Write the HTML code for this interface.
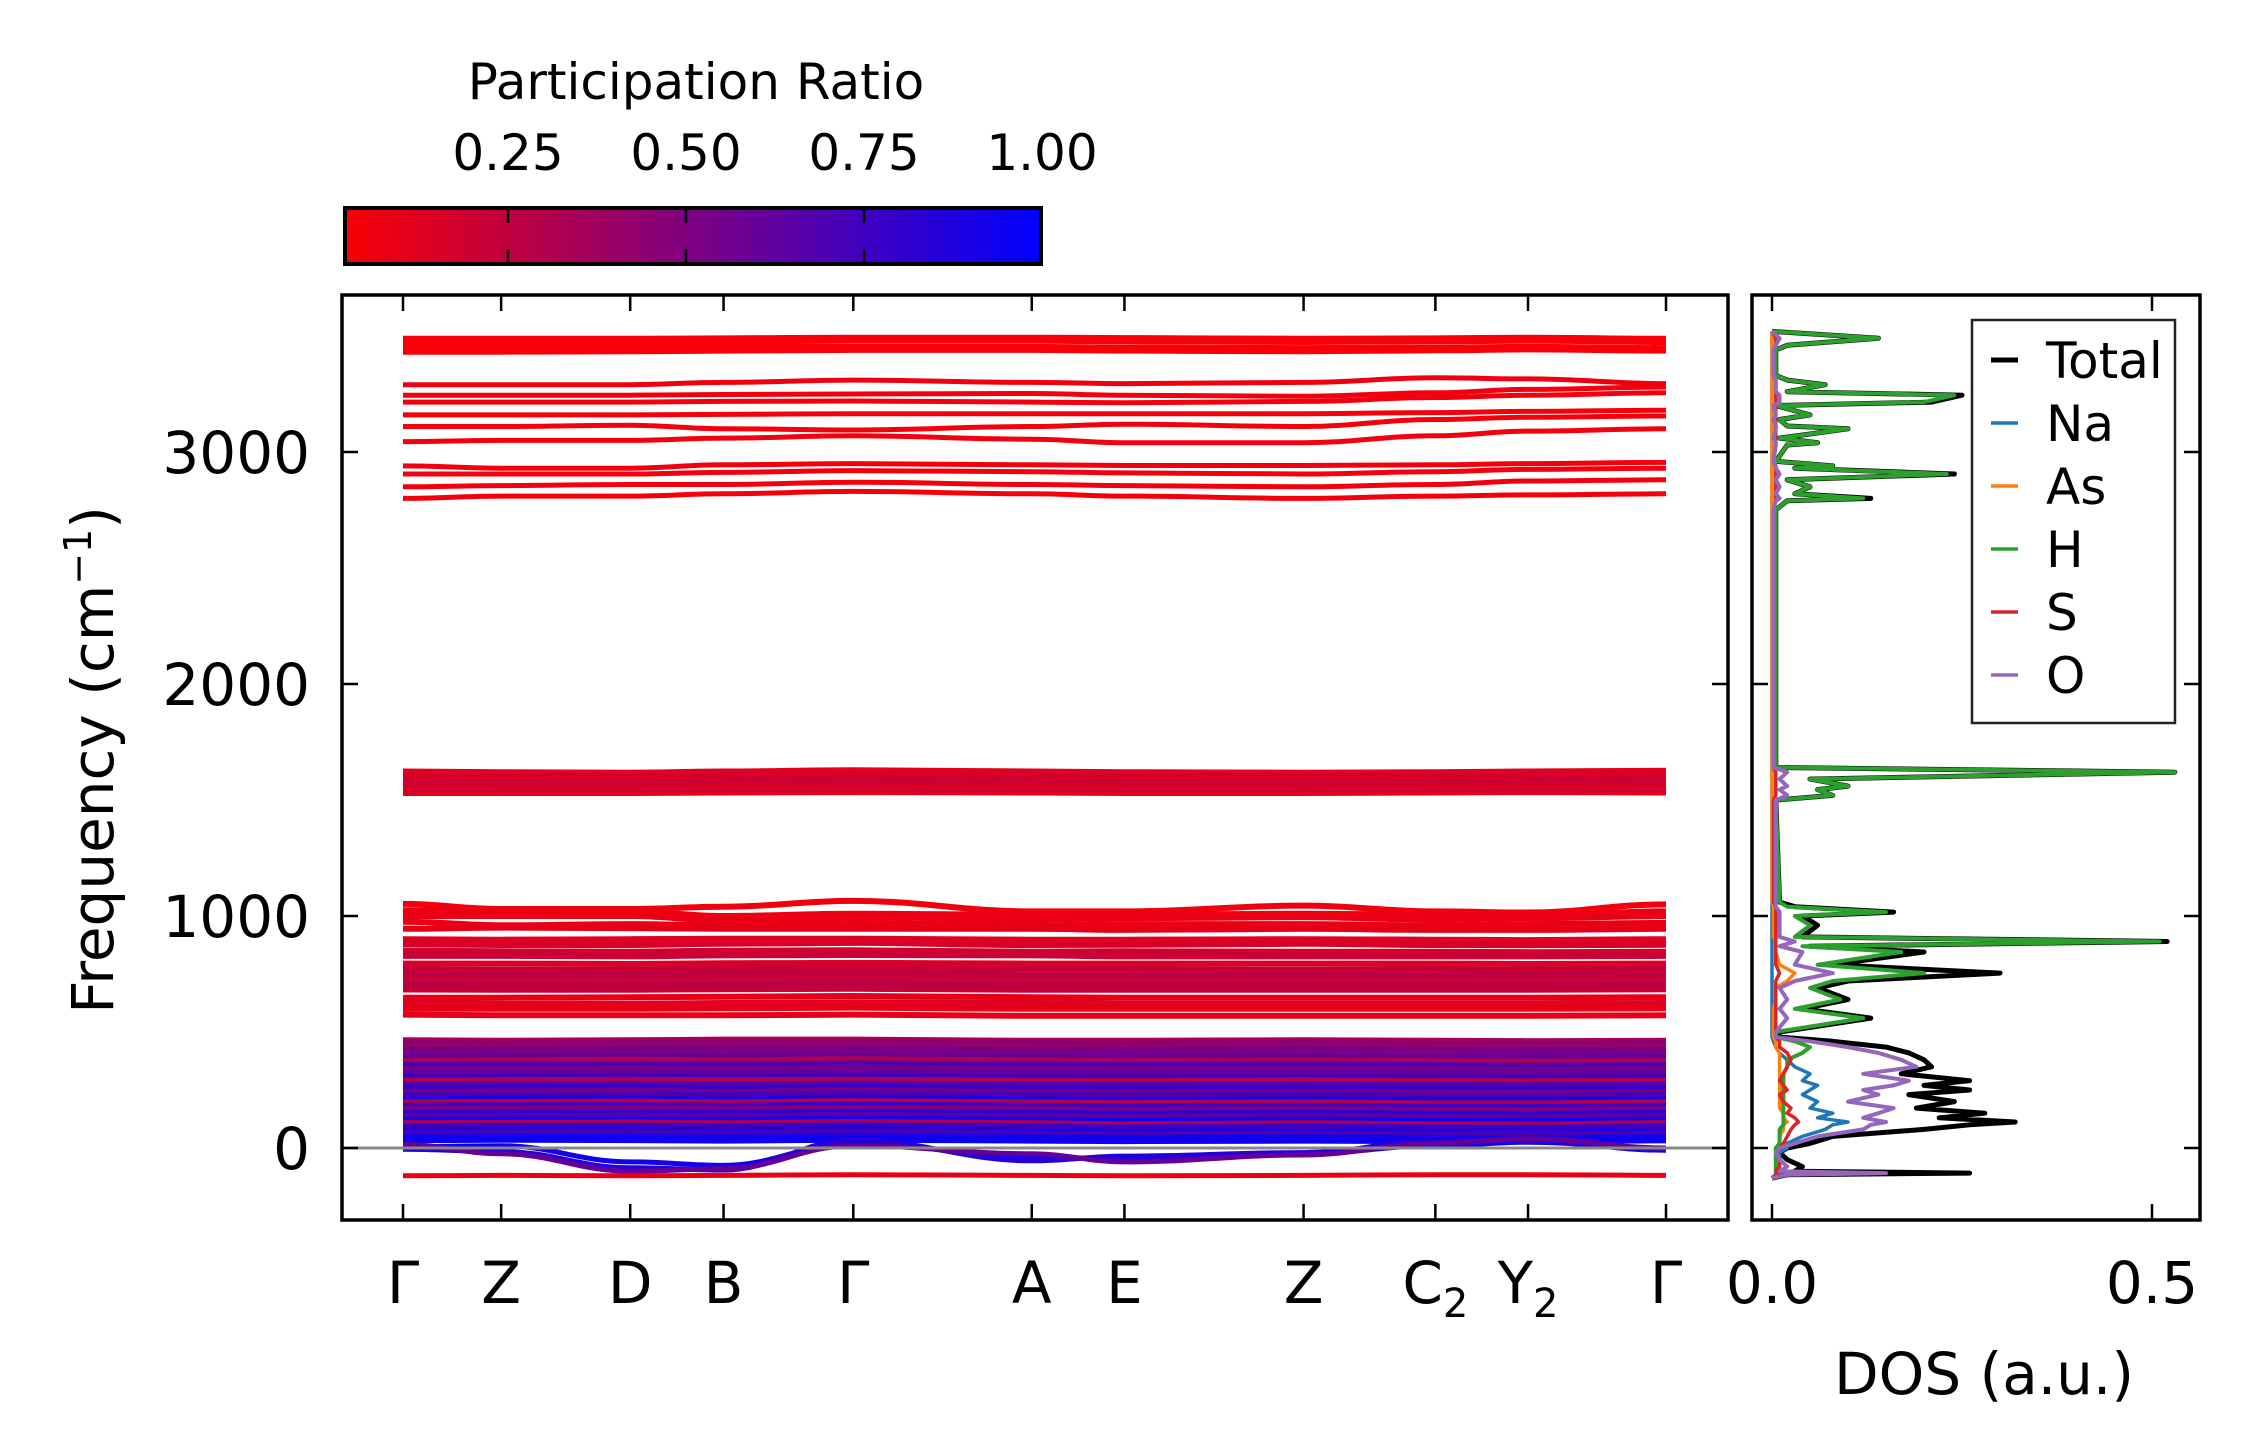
<!DOCTYPE html>
<html><head><meta charset="utf-8"><style>
html,body{margin:0;padding:0;background:#fff;}
svg{display:block;font-family:"DejaVu Sans","Liberation Sans",sans-serif;}
</style></head><body>
<svg id="fig" xmlns="http://www.w3.org/2000/svg" width="2259" height="1455" viewBox="0 0 2259 1455">
<defs>
<linearGradient id="cbg" x1="0" x2="1" y1="0" y2="0">
<stop offset="0" stop-color="#fa0005"/><stop offset="1" stop-color="#0000ff"/>
</linearGradient>
<clipPath id="mainclip"><rect x="342" y="295" width="1386" height="925"/></clipPath>
<clipPath id="dosclip"><rect x="1752" y="295" width="448" height="925"/></clipPath>
</defs>
<g id="colorbar">
<text x="696" y="99" font-size="50" text-anchor="middle">Participation Ratio</text>
<rect x="345" y="208" width="696" height="56" fill="url(#cbg)" stroke="#000" stroke-width="4"/>
<g id="cbticks"></g>
</g>
<g id="main">
<g id="bands" clip-path="url(#mainclip)"></g>
<line x1="342" x2="1728" y1="1148" y2="1148" stroke="#888" stroke-width="3"/>
<rect x="342" y="295" width="1386" height="925" fill="none" stroke="#000" stroke-width="3.5"/>
<g id="mainticks"></g>
<text transform="translate(113,760) rotate(-90)" font-size="58" text-anchor="middle">Frequency (cm<tspan font-size="38" dy="-22">−1</tspan><tspan dy="22">)</tspan></text>
</g>
<g id="dos">
<g id="doslines" clip-path="url(#dosclip)"></g>
<rect x="1752" y="295" width="448" height="925" fill="none" stroke="#000" stroke-width="3.5"/>
<g id="dosticks"></g>
<text x="1984" y="1394" font-size="58" text-anchor="middle">DOS (a.u.)</text>
<g>
<rect x="1972" y="320" width="203" height="403" fill="#fff" stroke="#222" stroke-width="2.5"/>
<g id="legend"></g>
</g>
</g>
</svg>
<script>
// ---------- data ----------
const kLabels = ["Γ","Z","D","B","Γ","A","E","Z","C","Y","Γ"];
const kSubs = ["","","","","","","","","2","2",""];
const kPos = [0,0.0715,0.1655,0.2335,0.3280,0.4580,0.5255,0.6560,0.7520,0.8195,0.9200];
const yTicks = [0,1000,2000,3000];
const cbTicks = [0.25,0.50,0.75,1.00];
const cbTickLabels = ["0.25","0.50","0.75","1.00"];
const dosTicks = [0.0,0.5];
const dosTickLabels = ["0.0","0.5"];

const highBands = [
[3490,3490,3490,3492,3495,3495,3493,3490,3492,3495,3490],
[3470,3470,3472,3475,3478,3478,3475,3472,3475,3478,3472],
[3450,3450,3452,3455,3455,3455,3452,3450,3452,3455,3450],
[3430,3430,3432,3435,3438,3438,3435,3432,3436,3440,3435],
[3290,3290,3290,3300,3310,3300,3295,3300,3320,3315,3295],
[3245,3245,3245,3248,3250,3252,3245,3240,3255,3270,3280],
[3215,3215,3215,3218,3220,3215,3212,3218,3235,3245,3255],
[3160,3160,3160,3162,3165,3165,3165,3165,3170,3175,3180],
[3110,3110,3115,3100,3095,3110,3120,3110,3140,3150,3155],
[3045,3050,3050,3060,3070,3055,3040,3040,3070,3090,3100],
[2940,2930,2930,2945,2950,2945,2942,2942,2945,2950,2955],
[2905,2905,2905,2912,2920,2915,2910,2905,2915,2925,2930],
[2850,2855,2860,2860,2870,2860,2855,2850,2860,2875,2880],
[2800,2810,2810,2820,2830,2820,2810,2800,2810,2815,2820]
];
const highPR = [0.03,0.03,0.03,0.03,0.06,0.05,0.05,0.04,0.04,0.05,0.05,0.05,0.05,0.04];

const midBands = [
[1625,1622,1620,1625,1630,1625,1622,1620,1622,1625,1628],
[1605,1605,1603,1608,1610,1608,1605,1605,1605,1608,1610],
[1590,1588,1588,1592,1595,1592,1590,1588,1590,1592,1595],
[1572,1572,1570,1575,1578,1575,1572,1570,1572,1575,1578],
[1558,1555,1555,1560,1562,1560,1558,1555,1558,1560,1562],
[1542,1540,1540,1545,1548,1545,1542,1540,1542,1545,1548],
[1528,1528,1528,1530,1532,1530,1528,1528,1530,1532,1530]
];
const midPR = [0.12,0.15,0.18,0.2,0.15,0.18,0.12];

const lowerBands = [
[1052,1030,1030,1040,1065,1020,1020,1045,1020,1015,1050],
[1025,1018,1020,1000,1010,1005,1005,1010,1005,1000,1020],
[1000,1000,1000,980,995,985,990,995,985,990,1000],
[975,960,965,960,970,960,965,965,960,965,970],
[945,950,948,945,945,945,940,945,940,940,945],
[900,898,900,902,902,898,898,900,898,896,900],
[878,875,875,880,884,875,876,880,875,874,876],
[850,848,846,850,852,846,848,846,846,844,846],
[828,828,826,830,832,830,826,826,826,826,828],
[795,795,793,796,798,795,795,795,795,793,795],
[770,768,768,772,774,770,770,768,770,768,772],
[748,745,746,748,750,745,745,746,745,745,748],
[725,722,722,725,728,722,722,722,722,722,725],
[703,700,700,703,706,700,700,700,700,700,703],
[683,682,682,684,686,682,682,682,682,682,684],
[648,648,650,652,655,650,648,648,648,648,650],
[625,622,622,625,628,625,622,622,622,622,625],
[600,600,600,602,605,600,600,600,600,600,602],
[575,572,572,572,575,570,570,570,570,570,572]
];
const lowerPR = [0.05,0.07,0.08,0.08,0.1,0.12,0.15,0.18,0.2,0.15,0.22,0.25,0.2,0.28,0.22,0.1,0.12,0.08,0.1];

const denseBands = [
[462,460,462,465,465,460,460,462,460,458,460],[450,448,450,452,455,450,448,450,448,448,450],
[438,435,438,440,440,435,435,438,435,435,438],[420,422,425,428,425,420,420,425,420,418,420],
[405,408,410,410,412,405,405,410,405,402,405],[390,392,395,392,395,390,390,392,388,390,390],
[372,375,378,375,380,375,372,375,372,370,372],[355,358,360,358,362,358,355,358,355,352,355],
[338,340,342,340,345,340,338,340,338,335,338],[320,322,325,322,328,322,320,322,320,318,320],
[305,305,308,306,310,305,302,305,302,300,305],[288,290,292,290,292,288,286,290,286,285,288],
[272,275,275,272,276,272,270,272,270,268,272],[255,258,260,256,260,255,255,256,252,252,255],
[240,242,244,240,245,240,238,240,238,236,240],[225,226,228,226,230,225,222,225,222,220,225],
[210,212,212,210,215,210,206,210,206,205,210],[195,196,198,195,200,195,192,195,190,190,195],
[180,182,182,180,185,180,176,180,176,175,180],[165,166,168,165,170,165,160,165,160,160,165],
[150,152,152,150,155,150,146,150,146,145,150],[135,136,138,135,140,135,130,135,130,130,135],
[120,122,122,120,125,120,116,120,116,115,120],[105,106,108,105,110,105,100,105,100,100,105],
[90,92,92,90,95,90,86,90,86,85,90],[75,78,78,75,80,75,70,75,70,70,75],
[60,62,64,60,65,60,56,60,56,55,60],[45,48,48,45,50,45,42,45,42,40,45],
[35,38,36,34,38,34,32,34,32,30,35]
];
const densePR = [0.35,0.45,0.4,0.55,0.5,0.6,0.3,0.7,0.55,0.6,0.75,0.3,0.65,0.8,0.55,0.7,0.85,0.3,0.75,0.5,0.8,0.65,0.9,0.35,0.75,0.85,0.7,0.9,0.95];

const acousticBands = [
[5,10,-60,-75,20,-40,-45,-25,10,25,-5],
[-5,-15,-85,-95,35,-55,-35,-20,30,30,-10],
[15,-25,-100,-90,10,-25,-60,-30,20,40,0],
[-120,-118,-120,-118,-115,-118,-120,-118,-115,-115,-118]
];
const acousticPR = [0.92,0.85,0.6,0.08];

const dosFreq = [-130,-115,-108,-100,-80,-50,-20,0,20,50,80,100,112,130,150,172,200,230,250,270,290,320,350,380,410,435,460,478,500,560,600,640,690,720,754,790,845,870,890,910,960,1000,1017,1040,1060,1500,1520,1545,1560,1590,1620,1640,2750,2790,2800,2820,2850,2880,2905,2930,2940,2960,3030,3040,3060,3100,3112,3140,3160,3200,3215,3245,3260,3290,3310,3330,3440,3460,3490,3520];
const dosTotal = [0,0.02,0.26,0.03,0.04,0.02,0.01,0.02,0.05,0.08,0.2,0.26,0.32,0.22,0.28,0.19,0.24,0.18,0.26,0.2,0.26,0.17,0.21,0.2,0.18,0.15,0.08,0.01,0.01,0.13,0.04,0.1,0.06,0.1,0.3,0.08,0.2,0.05,0.52,0.04,0.06,0.04,0.16,0.03,0.01,0.005,0.08,0.06,0.1,0.05,0.53,0.005,0.005,0.02,0.13,0.03,0.05,0.02,0.24,0.03,0.08,0.005,0.02,0.06,0.01,0.1,0.02,0.01,0.05,0.005,0.21,0.25,0.02,0.07,0.02,0.005,0.005,0.02,0.14,0];
const dosH = [0,0.005,0.005,0.005,0.005,0.005,0.005,0.005,0.01,0.01,0.01,0.015,0.015,0.015,0.015,0.015,0.015,0.015,0.015,0.015,0.015,0.015,0.02,0.02,0.04,0.05,0.03,0.005,0.005,0.12,0.03,0.09,0.05,0.08,0.2,0.06,0.17,0.04,0.51,0.03,0.05,0.03,0.15,0.02,0.01,0.005,0.08,0.06,0.1,0.05,0.53,0.005,0.005,0.02,0.12,0.03,0.05,0.02,0.23,0.03,0.08,0.005,0.02,0.06,0.01,0.1,0.02,0.01,0.05,0.005,0.2,0.24,0.02,0.07,0.02,0.005,0.005,0.02,0.14,0];
const dosO = [0,0.02,0.15,0.01,0.02,0.01,0.005,0.01,0.03,0.06,0.12,0.13,0.15,0.12,0.14,0.16,0.1,0.14,0.12,0.16,0.18,0.12,0.19,0.17,0.14,0.1,0.05,0.005,0.005,0.02,0.01,0.02,0.01,0.03,0.08,0.03,0.04,0.01,0.03,0.01,0.01,0.01,0.01,0.005,0.005,0.005,0.02,0.01,0.02,0.01,0.02,0.002,0.002,0.005,0.01,0.005,0.01,0.005,0.01,0.005,0.005,0.002,0.005,0.005,0.002,0.005,0.005,0.002,0.005,0.002,0.01,0.01,0.005,0.005,0.005,0.002,0.002,0.005,0.01,0];
const dosNa = [0,0.005,0.01,0.005,0.01,0.01,0.01,0.02,0.02,0.04,0.07,0.08,0.1,0.06,0.08,0.05,0.06,0.04,0.05,0.06,0.04,0.05,0.03,0.02,0.01,0.005,0.002,0,0,0,0,0,0,0,0,0,0,0,0,0,0,0,0,0,0,0,0,0,0,0,0,0,0,0,0,0,0,0,0,0,0,0,0,0,0,0,0,0,0,0,0,0,0,0,0,0,0,0,0,0];
const dosS = [0,0.005,0.01,0.005,0.01,0.01,0.005,0.01,0.015,0.02,0.025,0.03,0.035,0.03,0.02,0.025,0.015,0.01,0.02,0.015,0.01,0.015,0.02,0.025,0.02,0.01,0.01,0.005,0.005,0.005,0.005,0.005,0.005,0.005,0.01,0.005,0.005,0.005,0.005,0.005,0.005,0.005,0.005,0.005,0.002,0.002,0.005,0.005,0.005,0.005,0.005,0.002,0.002,0.005,0.005,0.005,0.005,0.005,0.005,0.005,0.005,0.002,0.005,0.005,0.005,0.005,0.005,0.005,0.005,0.005,0.005,0.005,0.005,0.005,0.005,0.002,0.002,0.005,0.005,0];
const dosAs = [0,0.005,0.005,0.005,0.005,0.005,0.005,0.005,0.01,0.01,0.015,0.015,0.02,0.015,0.015,0.01,0.01,0.01,0.01,0.01,0.01,0.01,0.01,0.01,0.01,0.005,0.005,0.002,0.002,0.002,0.002,0.005,0.005,0.02,0.03,0.01,0.005,0.005,0.005,0.002,0.002,0.002,0.002,0.002,0,0,0,0,0,0,0,0,0,0,0,0,0,0,0,0,0,0,0,0,0,0,0,0,0,0,0,0,0,0,0,0,0,0,0,0];
const legendNames = ["Total","Na","As","H","S","O"];
const legendColors = ["#000000","#1f77b4","#ff7f0e","#2ca02c","#d62728","#9467bd"];

// ---------- scales ----------
const NS="http://www.w3.org/2000/svg";
const X0=403, X1=1666;
function xk(t){return X0+(X1-X0)*t/kPos[kPos.length-1];}
function yf(f){return 1148-f*0.232;}
function xd(v){return 1772+v*760;}
function xcb(v){return 508+(v-0.25)*(686-508)/0.25;}
function prColor(p){
  const t=Math.max(0,Math.min(1,(p-0.017)/(1-0.017)));
  const r=Math.round(250*(1-t)), b=Math.round(5+250*t);
  return "rgb("+r+",0,"+b+")";
}
function mk(tag,attrs,parent){const e=document.createElementNS(NS,tag);for(const k in attrs)e.setAttribute(k,attrs[k]);parent.appendChild(e);return e;}

// smooth path through band points (monotone-ish cubic between k-points)
function bandPath(b){
  let d="";
  for(let j=0;j<b.length;j++){
    const x=xk(kPos[j]), y=yf(b[j]);
    if(j===0){d+="M"+x.toFixed(1)+","+y.toFixed(1);}
    else{
      const xp=xk(kPos[j-1]), yp=yf(b[j-1]);
      const dx=(x-xp)/2.5;
      d+=" C"+(xp+dx).toFixed(1)+","+yp.toFixed(1)+" "+(x-dx).toFixed(1)+","+y.toFixed(1)+" "+x.toFixed(1)+","+y.toFixed(1);
    }
  }
  return d;
}

// ---------- bands ----------
const gb=document.getElementById('bands');
function drawBands(set,prs,w,group){
  set.forEach((b,i)=>{
    const e=mk('path',{d:bandPath(b),fill:'none',stroke:prColor(prs[i]),'stroke-width':w,'stroke-linejoin':'round'},gb);
    
    
  });
}
drawBands(denseBands,densePR,7,'low-frequency');
drawBands(lowerBands,lowerPR,6,'mid-frequency');
drawBands(midBands,midPR,5,'bending');
drawBands(highBands,highPR,5,'stretching');
drawBands(acousticBands,acousticPR,5,'acoustic');

// ---------- main ticks ----------
const mt=document.getElementById('mainticks');
kPos.forEach((t,i)=>{
  const x=xk(t);
  let e=mk('line',{x1:x,x2:x,y1:295,y2:311,stroke:'#000','stroke-width':2.5},mt);
  
  
  e=mk('line',{x1:x,x2:x,y1:1204,y2:1220,stroke:'#000','stroke-width':2.5},mt);
  
  
  const tx=mk('text',{x:x,y:1303,'font-size':58,'text-anchor':'middle'},mt);
  
  
  tx.textContent=kLabels[i];
  if(kSubs[i]){const s=mk('tspan',{'font-size':40,dy:14},tx);s.textContent=kSubs[i];}
});
yTicks.forEach(v=>{
  const y=yf(v);
  let e=mk('line',{x1:342,x2:358,y1:y,y2:y,stroke:'#000','stroke-width':2.5},mt);
  
  
  e=mk('line',{x1:1712,x2:1728,y1:y,y2:y,stroke:'#000','stroke-width':2.5},mt);
  
  
  const tx=mk('text',{x:310,y:y+21,'font-size':58,'text-anchor':'end'},mt);
  
  
  tx.textContent=String(v);
});

// ---------- colorbar ticks ----------
const cbt=document.getElementById('cbticks');
cbTicks.forEach((v,i)=>{
  const x=xcb(v);
  if(v<1){
    let e=mk('line',{x1:x,x2:x,y1:208,y2:223,stroke:'#000','stroke-width':2.5},cbt);
    
    
    e=mk('line',{x1:x,x2:x,y1:249,y2:264,stroke:'#000','stroke-width':2.5},cbt);
    
    
  }
  const tx=mk('text',{x:x,y:170,'font-size':50,'text-anchor':'middle'},cbt);
  
  
  tx.textContent=cbTickLabels[i];
});

// ---------- DOS ----------
const gd=document.getElementById('doslines');
function dosLine(vals,color,w,name){
  const pts=vals.map((v,i)=>xd(v).toFixed(1)+","+yf(dosFreq[i]).toFixed(1)).join(" ");
  const e=mk('polyline',{points:pts,fill:'none',stroke:color,'stroke-width':w,'stroke-linejoin':'round'},gd);
  
  
}
dosLine(dosTotal,'#000',5,'dos-total-line');
dosLine(dosNa,'#1f77b4',3.5,'dos-na-line');
dosLine(dosAs,'#ff7f0e',3.5,'dos-as-line');
dosLine(dosH,'#2ca02c',4,'dos-h-line');
dosLine(dosS,'#d62728',3.5,'dos-s-line');
dosLine(dosO,'#9467bd',4,'dos-o-line');

const dt=document.getElementById('dosticks');
dosTicks.forEach((v,i)=>{
  const x=xd(v);
  let e=mk('line',{x1:x,x2:x,y1:295,y2:311,stroke:'#000','stroke-width':2.5},dt);
  
  
  e=mk('line',{x1:x,x2:x,y1:1204,y2:1220,stroke:'#000','stroke-width':2.5},dt);
  
  
  const tx=mk('text',{x:x,y:1303,'font-size':58,'text-anchor':'middle'},dt);
  
  
  tx.textContent=dosTickLabels[i];
});
yTicks.forEach(v=>{
  const y=yf(v);
  let e=mk('line',{x1:1752,x2:1768,y1:y,y2:y,stroke:'#000','stroke-width':2.5},dt);
  
  
  e=mk('line',{x1:2184,x2:2200,y1:y,y2:y,stroke:'#000','stroke-width':2.5},dt);
  
  
});

// ---------- legend ----------
const lg=document.getElementById('legend');
legendNames.forEach((n,i)=>{
  const y=360+i*63;
  let e=mk('line',{x1:1991,x2:2018,y1:y,y2:y,stroke:legendColors[i],'stroke-width':i===0?5:3.5},lg);
  
  
  const tx=mk('text',{x:2046,y:y+18,'font-size':50},lg);
  
  
  tx.textContent=n;
});
</script>
</body></html>
